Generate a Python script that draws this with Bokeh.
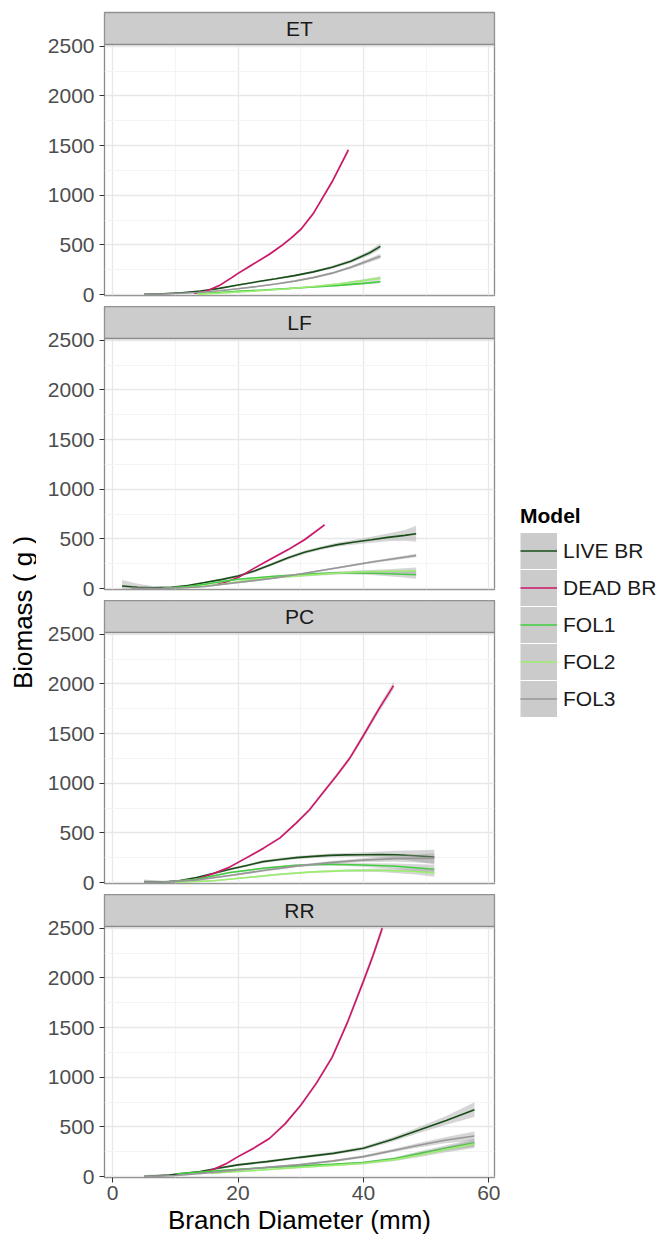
import math
from bokeh.plotting import figure
from bokeh.models import Range1d, FixedTicker, Label, Legend, LegendItem
from bokeh.layouts import row, column
from bokeh.embed import file_html
from bokeh.resources import INLINE
from bokeh.core.properties import value

# ---------------- data ----------------
PANELS = ["ET", "LF", "PC", "RR"]
MODELS = ["LIVE BR", "DEAD BR", "FOL1", "FOL2", "FOL3"]
X_TICKS = [0, 20, 40, 60]
X_MINOR = [10, 30, 50]
Y_TICKS = [0, 500, 1000, 1500, 2000, 2500]
Y_MINOR = [250, 750, 1250, 1750, 2250]

# ET
ET_LIVE_X = [5, 8, 11, 14, 17, 20, 23, 26, 29, 32, 35, 38, 41, 42.7]
ET_LIVE_Y = [3, 8, 18, 35, 62, 95, 128, 158, 190, 228, 275, 335, 420, 485]
ET_LIVE_SE = [12, 8, 6, 6, 7, 8, 8, 9, 10, 12, 15, 18, 24, 30]
ET_DEAD_X = [13, 15, 17, 19, 20, 22, 25, 27, 28.5, 30, 32, 35, 37.6]
ET_DEAD_Y = [10, 35, 90, 170, 213, 290, 405, 495, 570, 655, 815, 1135, 1456]
ET_DEAD_SE = [8, 8, 9, 10, 10, 11, 12, 13, 14, 15, 17, 21, 26]
ET_FOL1_X = [13.5, 17, 20, 24, 28, 32, 36, 40, 42.7]
ET_FOL1_Y = [8, 20, 32, 45, 60, 75, 92, 112, 128]
ET_FOL1_SE = [5, 5, 5, 5, 6, 7, 9, 12, 15]
ET_FOL2_X = [13.5, 17, 20, 24, 28, 32, 36, 40, 42.7]
ET_FOL2_Y = [4, 14, 25, 40, 58, 80, 105, 140, 165]
ET_FOL2_SE = [5, 5, 5, 6, 7, 8, 10, 14, 18]
ET_FOL3_X = [5, 8, 11, 14, 17, 20, 23, 26, 29, 32, 35, 38, 41, 42.7]
ET_FOL3_Y = [2, 5, 12, 22, 38, 58, 80, 105, 135, 170, 215, 275, 345, 385]
ET_FOL3_SE = [12, 8, 6, 5, 6, 7, 7, 8, 9, 10, 12, 15, 20, 25]

# LF
LF_LIVE_X = [1.5, 4, 6.5, 9.4, 12, 14.7, 17.5, 20, 22.6, 25.3, 28, 30.6, 33.3, 35.9, 38.6, 41.3, 43.9, 46.6, 48.4]
LF_LIVE_Y = [25, 12, 8, 12, 30, 60, 92, 126, 176, 242, 309, 365, 408, 442, 468, 491, 515, 535, 551]
LF_LIVE_SE = [60, 35, 18, 10, 10, 11, 12, 13, 14, 15, 16, 17, 18, 20, 24, 30, 40, 55, 80]
LF_DEAD_X = [16, 17.9, 20, 22.6, 25.3, 28, 30.6, 33.8]
LF_DEAD_Y = [30, 60, 110, 205, 300, 392, 491, 641]
LF_DEAD_SE = [8, 8, 8, 9, 10, 11, 12, 14]
LF_FOL1_X = [8, 12, 14.7, 17.5, 20, 25.3, 30.6, 35.9, 41.3, 45, 48.4]
LF_FOL1_Y = [3, 20, 43, 70, 93, 120, 143, 159, 153, 146, 139]
LF_FOL1_SE = [8, 8, 8, 8, 8, 9, 10, 12, 18, 28, 40]
LF_FOL2_X = [10, 13.5, 17.3, 22.6, 28, 33.3, 38.6, 43.9, 48.4]
LF_FOL2_Y = [3, 18, 43, 93, 120, 143, 166, 173, 176]
LF_FOL2_SE = [8, 8, 8, 9, 10, 11, 14, 22, 35]
LF_FOL3_X = [3, 8, 12, 14.7, 20, 25.3, 30.6, 35.9, 41.3, 48.4]
LF_FOL3_Y = [0, 3, 10, 20, 60, 100, 153, 209, 266, 332]
LF_FOL3_SE = [20, 8, 6, 6, 7, 8, 9, 10, 12, 18]

# PC
PC_LIVE_X = [5, 8.1, 10.8, 13.4, 16, 18.7, 21.4, 24, 26.7, 29.3, 32, 34.6, 37.3, 39.9, 42.6, 45.2, 48.3, 51.3]
PC_LIVE_Y = [5, 3, 20, 50, 90, 133, 172, 210, 232, 250, 263, 273, 278, 280, 281, 280, 270, 256]
PC_LIVE_SE = [25, 12, 10, 10, 11, 12, 13, 14, 15, 16, 17, 18, 20, 24, 30, 40, 55, 75]
PC_DEAD_X = [9.7, 13.4, 16.1, 18.7, 21.4, 24, 26.7, 29.3, 31.4, 33.5, 35.7, 37.8, 40, 42.5, 44.8]
PC_DEAD_Y = [7, 33, 90, 157, 250, 343, 450, 600, 733, 900, 1075, 1250, 1480, 1750, 1982]
PC_DEAD_SE = [6, 8, 9, 10, 11, 12, 13, 15, 17, 19, 21, 24, 27, 33, 38]
PC_FOL1_X = [8, 13.4, 18.7, 24, 29.3, 34.6, 39.9, 45.2, 51.3]
PC_FOL1_Y = [2, 33, 100, 143, 173, 183, 176, 163, 133]
PC_FOL1_SE = [10, 8, 9, 10, 11, 13, 18, 28, 45]
PC_FOL2_X = [10, 16.1, 21.4, 26.7, 32, 37.3, 42.6, 48.3, 51.3]
PC_FOL2_Y = [3, 17, 50, 83, 107, 120, 123, 110, 97]
PC_FOL2_SE = [8, 8, 8, 9, 10, 12, 18, 30, 40]
PC_FOL3_X = [5, 8, 13.4, 18.7, 24, 29.3, 34.6, 39.9, 45.2, 51.3]
PC_FOL3_Y = [3, 5, 25, 70, 120, 165, 200, 225, 240, 245]
PC_FOL3_SE = [20, 12, 9, 10, 11, 12, 14, 18, 30, 50]

# RR
RR_LIVE_X = [5, 9, 14, 17, 20, 24.6, 29.9, 35.2, 40, 44.7, 49, 53.2, 57.7]
RR_LIVE_Y = [0, 15, 50, 85, 117, 150, 193, 233, 285, 375, 470, 565, 673]
RR_LIVE_SE = [15, 10, 10, 11, 12, 13, 14, 15, 17, 22, 30, 45, 75]
RR_DEAD_X = [14, 16, 18, 20, 22.5, 25, 27.5, 30, 32.5, 35, 37.5, 40, 41.5, 43]
RR_DEAD_Y = [30, 70, 125, 200, 285, 383, 530, 717, 940, 1200, 1560, 1967, 2220, 2500]
RR_DEAD_SE = [8, 9, 10, 11, 12, 13, 15, 17, 20, 23, 28, 35, 40, 45]
RR_FOL1_X = [10.3, 15, 20, 25, 30, 35, 40, 45, 49, 53, 57.7]
RR_FOL1_Y = [27, 50, 73, 90, 107, 122, 140, 180, 233, 285, 340]
RR_FOL1_SE = [8, 8, 8, 8, 9, 10, 12, 15, 20, 28, 40]
RR_FOL2_X = [15.6, 20, 25, 30, 35, 40, 45, 49, 53, 57.7]
RR_FOL2_Y = [33, 50, 70, 93, 112, 133, 170, 217, 270, 327]
RR_FOL2_SE = [8, 8, 8, 9, 10, 12, 15, 20, 28, 40]
RR_FOL3_X = [5, 10, 15, 20, 25, 30, 35, 40, 45, 49, 53, 57.7]
RR_FOL3_Y = [0, 10, 35, 67, 95, 120, 155, 200, 265, 317, 365, 407]
RR_FOL3_SE = [15, 8, 8, 8, 9, 10, 11, 13, 17, 22, 30, 45]

# ---------------- styling ----------------
COLORS = {"LIVE BR": "#184D18", "DEAD BR": "#D0146A", "FOL1": "#3FCF3F",
          "FOL2": "#9BEF6E", "FOL3": "#979797"}
FONT = "Liberation Sans"
TICK_PX = "21px"
TITLE_PX = "26px"

CURVES = {
    "ET": {"LIVE BR": (ET_LIVE_X, ET_LIVE_Y, ET_LIVE_SE), "DEAD BR": (ET_DEAD_X, ET_DEAD_Y, ET_DEAD_SE),
           "FOL1": (ET_FOL1_X, ET_FOL1_Y, ET_FOL1_SE), "FOL2": (ET_FOL2_X, ET_FOL2_Y, ET_FOL2_SE),
           "FOL3": (ET_FOL3_X, ET_FOL3_Y, ET_FOL3_SE)},
    "LF": {"LIVE BR": (LF_LIVE_X, LF_LIVE_Y, LF_LIVE_SE), "DEAD BR": (LF_DEAD_X, LF_DEAD_Y, LF_DEAD_SE),
           "FOL1": (LF_FOL1_X, LF_FOL1_Y, LF_FOL1_SE), "FOL2": (LF_FOL2_X, LF_FOL2_Y, LF_FOL2_SE),
           "FOL3": (LF_FOL3_X, LF_FOL3_Y, LF_FOL3_SE)},
    "PC": {"LIVE BR": (PC_LIVE_X, PC_LIVE_Y, PC_LIVE_SE), "DEAD BR": (PC_DEAD_X, PC_DEAD_Y, PC_DEAD_SE),
           "FOL1": (PC_FOL1_X, PC_FOL1_Y, PC_FOL1_SE), "FOL2": (PC_FOL2_X, PC_FOL2_Y, PC_FOL2_SE),
           "FOL3": (PC_FOL3_X, PC_FOL3_Y, PC_FOL3_SE)},
    "RR": {"LIVE BR": (RR_LIVE_X, RR_LIVE_Y, RR_LIVE_SE), "DEAD BR": (RR_DEAD_X, RR_DEAD_Y, RR_DEAD_SE),
           "FOL1": (RR_FOL1_X, RR_FOL1_Y, RR_FOL1_SE), "FOL2": (RR_FOL2_X, RR_FOL2_Y, RR_FOL2_SE),
           "FOL3": (RR_FOL3_X, RR_FOL3_Y, RR_FOL3_SE)},
}

# ---------------- layout geometry ----------------
FRAME_W, FRAME_H = 390, 283
STRIP_PX = 32
BOTTOM_PAD_PX, TOP_PAD_PX = 1.0, 1.7           # data 0 / 2500 inset from panel edges
PX_PER_UNIT = (FRAME_H - STRIP_PX - BOTTOM_PAD_PX - TOP_PAD_PX) / Y_TICKS[-1]
Y_START = -BOTTOM_PAD_PX / PX_PER_UNIT
PANEL_TOP = Y_TICKS[-1] + TOP_PAD_PX / PX_PER_UNIT
STRIP_TOP = PANEL_TOP + STRIP_PX / PX_PER_UNIT
X_START, X_END = -1.3, 60.9
LEFT_PAD, RIGHT_PAD = 68, 6
GAP = 11
TOTAL_H = 1239


def make_panel(name, first, last):
    p = figure(frame_width=FRAME_W, frame_height=FRAME_H,
               x_range=Range1d(X_START, X_END), y_range=Range1d(Y_START, STRIP_TOP),
               output_backend="svg", toolbar_location=None,
               x_axis_location="below" if last else None,
               min_border_left=LEFT_PAD, min_border_right=RIGHT_PAD,
               min_border_top=12 if first else 0,
               min_border_bottom=0 if last else GAP)
    p.background_fill_color = "white"
    p.border_fill_color = "white"
    p.outline_line_color = "#8A8A8A"
    p.outline_line_width = 1.3

    p.xgrid.ticker = FixedTicker(ticks=X_TICKS, minor_ticks=X_MINOR)
    p.ygrid.ticker = FixedTicker(ticks=Y_TICKS, minor_ticks=Y_MINOR)
    for g in (p.xgrid[0], p.ygrid[0]):
        g.grid_line_color = "#E8E8E8"
        g.grid_line_width = 1.3
        g.minor_grid_line_color = "#F4F4F4"
        g.minor_grid_line_width = 1

    ya = p.yaxis[0]
    ya.ticker = FixedTicker(ticks=Y_TICKS)
    ya.axis_line_color = None
    ya.minor_tick_line_color = None
    ya.major_tick_in = 0
    ya.major_tick_out = 5
    ya.major_tick_line_color = "#333333"
    ya.major_label_text_font = FONT
    ya.major_label_text_font_size = TICK_PX
    ya.major_label_text_color = "#4D4D4D"
    ya.major_label_standoff = 5

    if last:
        xa = p.xaxis[0]
        xa.ticker = FixedTicker(ticks=X_TICKS)
        xa.axis_line_color = None
        xa.minor_tick_line_color = None
        xa.major_tick_in = 0
        xa.major_tick_out = 5
        xa.major_tick_line_color = "#333333"
        xa.major_label_text_font = FONT
        xa.major_label_text_font_size = TICK_PX
        xa.major_label_text_color = "#4D4D4D"
        xa.major_label_standoff = 3
        xa.axis_label = "Branch Diameter (mm)"
        xa.axis_label_text_font = FONT
        xa.axis_label_text_font_size = TITLE_PX
        xa.axis_label_text_font_style = "normal"
        xa.axis_label_text_color = "black"
        xa.axis_label_standoff = 2

    for m in MODELS:
        xs, ys, se = CURVES[name][m]
        lo = [y - s for y, s in zip(ys, se)]
        hi = [y + s for y, s in zip(ys, se)]
        p.varea(x=xs, y1=lo, y2=hi, fill_color="#999999", fill_alpha=0.4)
        p.line(x=xs, y=ys, line_color=COLORS[m], line_width=1.6)

    # facet strip
    p.quad(left=[X_START], right=[X_END], bottom=[PANEL_TOP], top=[STRIP_TOP],
           fill_color="#CCCCCC", line_color="#8A8A8A", line_width=1.3)
    p.text(x=[(X_START + X_END) / 2], y=[(PANEL_TOP + STRIP_TOP) / 2], text=[name],
           text_align="center", text_baseline="middle", text_font=value(FONT),
           text_font_size=TICK_PX, text_color="#1A1A1A")
    return p


panels = [make_panel(n, i == 0, i == len(PANELS) - 1) for i, n in enumerate(PANELS)]

# y-axis title
ylab = figure(width=36, height=TOTAL_H, x_range=Range1d(0, 36), y_range=Range1d(0, TOTAL_H),
              output_backend="svg", toolbar_location=None, x_axis_location=None,
              y_axis_location=None, min_border=0)
ylab.grid.visible = False
ylab.outline_line_color = None
ylab.add_layout(Label(x=22, y=TOTAL_H - 612, text="Biomass ( g )", angle=math.pi / 2,
                      text_align="center", text_baseline="middle", text_font=FONT,
                      text_font_size=TITLE_PX, text_color="black"))

# legend
leg = figure(width=162, height=TOTAL_H, x_range=Range1d(0, 1), y_range=Range1d(0, 1),
             output_backend="svg", toolbar_location=None, x_axis_location=None,
             y_axis_location=None, min_border=0)
leg.grid.visible = False
leg.outline_line_color = None
items = []
for m in MODELS:
    bg = leg.line(x=[-5, -4], y=[-5, -4], line_color="#CBCBCB", line_width=36, line_cap="butt")
    ln = leg.line(x=[-5, -4], y=[-5, -4], line_color=COLORS[m], line_width=1.6)
    items.append(LegendItem(label=m, renderers=[bg, ln]))
legend = Legend(items=items, location=(20, 522), title="Model",
                title_text_font=FONT, title_text_font_size="21px", title_text_font_style="bold",
                title_text_color="black", title_standoff=4,
                label_text_font=FONT, label_text_font_size="21px", label_text_color="#1A1A1A",
                glyph_width=37, glyph_height=37, label_height=37, spacing=0,
                label_standoff=6, padding=0, margin=0,
                border_line_color=None, background_fill_alpha=0)
leg.add_layout(legend, "center")

layout = row(ylab, column(*panels), leg)
open("out.html", "w").write(file_html(layout, INLINE))
